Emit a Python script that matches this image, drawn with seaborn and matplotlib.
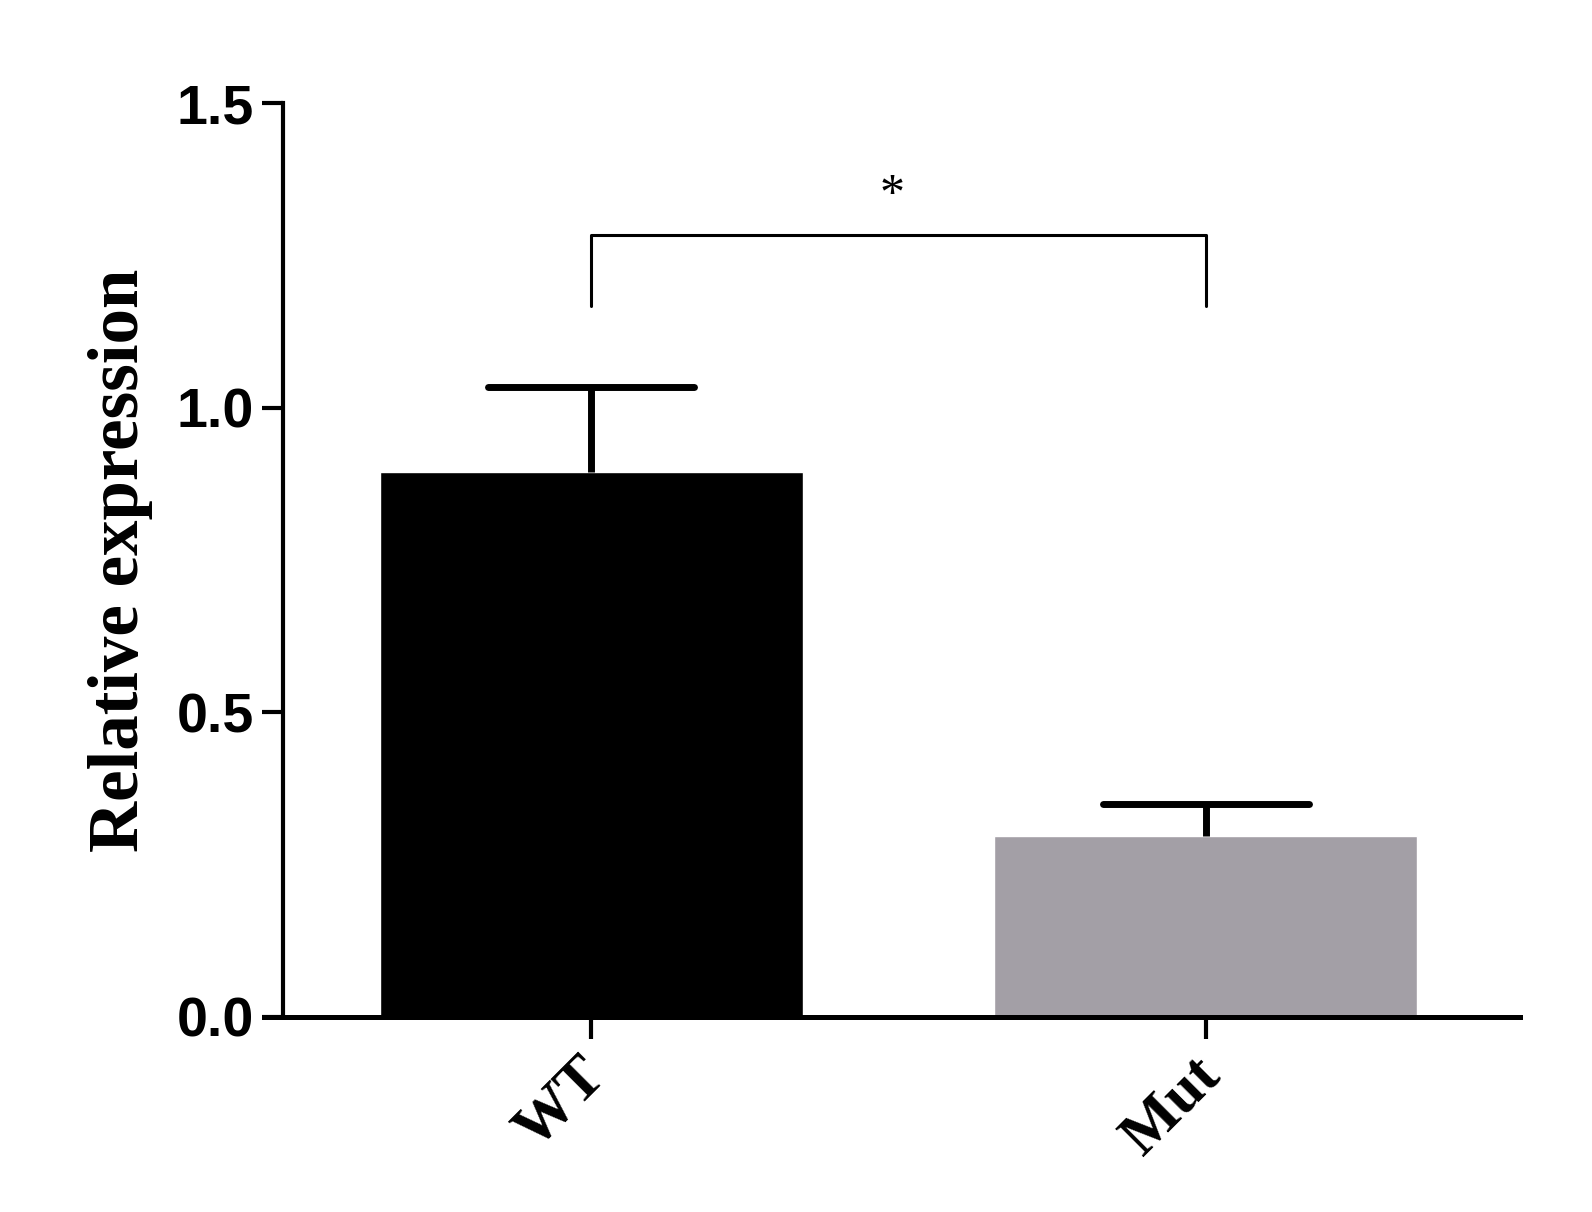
import matplotlib
matplotlib.use("Agg")
import matplotlib.pyplot as plt
import matplotlib.transforms as mtransforms
import seaborn as sns
import pandas as pd
import numpy as np

categories = ["WT", "Mut"]
means = [0.894, 0.297]
errors = [0.140, 0.053]
colors = ["#000000", "#A39FA6"]
yticks = [0.0, 0.5, 1.0, 1.5]
ytick_labels = ["0.0", "0.5", "1.0", "1.5"]
bracket_y = 1.283
bracket_leg = 1.167
star_label = "*"

sns.set_theme(style="white")
plt.rcParams["font.family"] = ["Liberation Serif", "DejaVu Serif"]

df = pd.DataFrame({"group": categories, "value": means})

fig = plt.figure(figsize=(15.92, 12.12), dpi=100)
ax = fig.add_axes([0.1658, 0.161, 0.789, 0.754])

sns.barplot(data=df, x="group", y="value", hue="group", palette=colors,
            order=categories, width=0.688, errorbar=None, legend=False,
            saturation=1, ax=ax)

xs = np.arange(len(categories))
tops = np.array(means) + np.array(errors)
cap_half = 0.167
ax.vlines(xs, means, tops, color="black", lw=5.0, zorder=3)
ax.hlines(tops, xs - cap_half, xs + cap_half, color="black", lw=5.0, zorder=3,
          capstyle="round")

for s in ["top", "right"]:
    ax.spines[s].set_visible(False)
ax.spines["left"].set_position(("axes", 0.015))
ax.spines["left"].set_linewidth(3.0)
ax.spines["bottom"].set_linewidth(3.6)
ax.spines["left"].set_color("black")
ax.spines["bottom"].set_color("black")
ax.tick_params(axis="y", direction="out", length=15, width=3.0, left=True, pad=6,
               colors="black", labelsize=40)
ax.tick_params(axis="x", direction="out", length=16, width=3.0, bottom=True, pad=6,
               colors="black", labelsize=44)

ax.set_xlim(-0.532, 1.511)
ax.set_ylim(0, 1.5)
ax.set_yticks(yticks, ytick_labels, fontsize=40, fontweight="bold",
              fontfamily="Liberation Sans", color="black")
ax.set_xticks(xs, categories, rotation=45, ha="right", rotation_mode="anchor",
              fontsize=44, fontweight="bold", color="black")
shift = mtransforms.ScaledTranslation(-14 / 100, 0, fig.dpi_scale_trans)
for lab in ax.get_xticklabels():
    lab.set_transform(lab.get_transform() + shift)
ax.set_xlabel("")
ax.set_ylabel("Relative expression", fontsize=51, fontweight="bold",
              labelpad=17, color="black")

# significance bracket
ax.plot([0, 0, 1, 1], [bracket_leg, bracket_y, bracket_y, bracket_leg],
        color="black", lw=2.2, clip_on=False)
ax.text(0.49, bracket_y + 0.065, star_label, ha="center", va="center",
        fontsize=36, fontweight="normal", color="black")

fig.savefig("out.png", dpi=100, facecolor="white")
